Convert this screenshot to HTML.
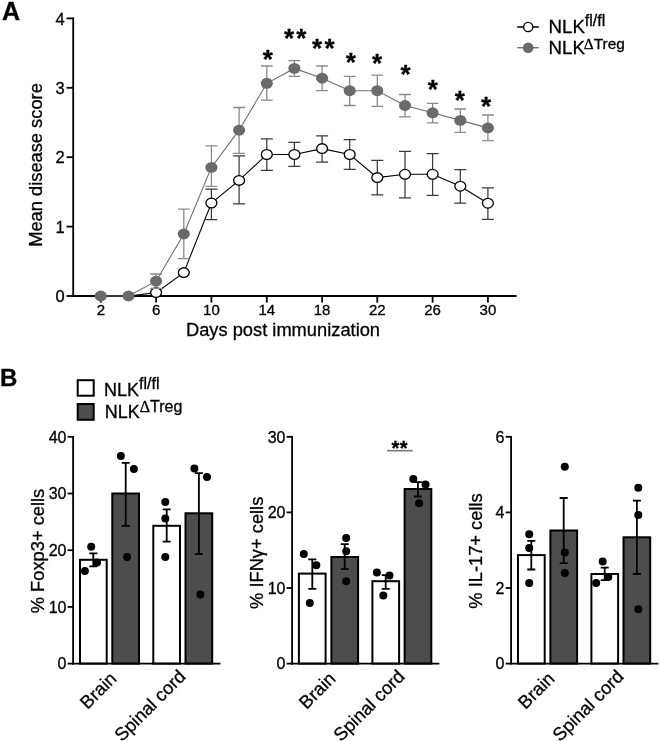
<!DOCTYPE html>
<html><head><meta charset="utf-8"><style>
html,body{margin:0;padding:0;background:#fff;}
svg{display:block;font-family:"Liberation Sans", sans-serif;filter:grayscale(1);}
text{stroke:#000;stroke-width:0.3px;}
</style></head><body>
<svg width="660" height="741" viewBox="0 0 660 741" fill="#000">
<rect width="660" height="741" fill="#fff"/>
<text x="2" y="20" font-size="25" font-weight="bold">A</text>
<line x1="73.2" y1="17.6" x2="73.2" y2="296.9" stroke="#000" stroke-width="1.8"/>
<line x1="72.3" y1="296.0" x2="516.5" y2="296.0" stroke="#000" stroke-width="1.8"/>
<line x1="66.5" y1="296.0" x2="73.2" y2="296.0" stroke="#000" stroke-width="1.8"/>
<text x="64.6" y="302.2" font-size="16.5" text-anchor="end">0</text>
<line x1="66.5" y1="226.6" x2="73.2" y2="226.6" stroke="#000" stroke-width="1.8"/>
<text x="64.6" y="232.8" font-size="16.5" text-anchor="end">1</text>
<line x1="66.5" y1="157.2" x2="73.2" y2="157.2" stroke="#000" stroke-width="1.8"/>
<text x="64.6" y="163.4" font-size="16.5" text-anchor="end">2</text>
<line x1="66.5" y1="87.8" x2="73.2" y2="87.8" stroke="#000" stroke-width="1.8"/>
<text x="64.6" y="94.0" font-size="16.5" text-anchor="end">3</text>
<line x1="66.5" y1="18.4" x2="73.2" y2="18.4" stroke="#000" stroke-width="1.8"/>
<text x="64.6" y="24.6" font-size="16.5" text-anchor="end">4</text>
<line x1="100.8" y1="296.0" x2="100.8" y2="302.6" stroke="#000" stroke-width="1.8"/>
<text x="100.8" y="315" font-size="15" text-anchor="middle">2</text>
<line x1="156.1" y1="296.0" x2="156.1" y2="302.6" stroke="#000" stroke-width="1.8"/>
<text x="156.1" y="315" font-size="15" text-anchor="middle">6</text>
<line x1="211.4" y1="296.0" x2="211.4" y2="302.6" stroke="#000" stroke-width="1.8"/>
<text x="211.4" y="315" font-size="15" text-anchor="middle">10</text>
<line x1="266.8" y1="296.0" x2="266.8" y2="302.6" stroke="#000" stroke-width="1.8"/>
<text x="266.8" y="315" font-size="15" text-anchor="middle">14</text>
<line x1="322.1" y1="296.0" x2="322.1" y2="302.6" stroke="#000" stroke-width="1.8"/>
<text x="322.1" y="315" font-size="15" text-anchor="middle">18</text>
<line x1="377.3" y1="296.0" x2="377.3" y2="302.6" stroke="#000" stroke-width="1.8"/>
<text x="377.3" y="315" font-size="15" text-anchor="middle">22</text>
<line x1="432.6" y1="296.0" x2="432.6" y2="302.6" stroke="#000" stroke-width="1.8"/>
<text x="432.6" y="315" font-size="15" text-anchor="middle">26</text>
<line x1="487.9" y1="296.0" x2="487.9" y2="302.6" stroke="#000" stroke-width="1.8"/>
<text x="487.9" y="315" font-size="15" text-anchor="middle">30</text>
<text x="283" y="335.8" font-size="18.3" text-anchor="middle">Days post immunization</text>
<text transform="translate(42,165) rotate(-90)" font-size="18.3" text-anchor="middle">Mean disease score</text>
<polyline points="128.5,296.0 156.1,292.6 183.8,272.6 211.4,203.0 239.1,180.4 266.8,154.5 294.4,154.5 322.1,148.6 349.7,154.5 377.3,177.6 405.0,174.3 432.6,174.3 460.3,186.2 487.9,203.2" fill="none" stroke="#000" stroke-width="1.1"/>
<path d="M211.4 189.0V219.5M205.4 189.0H217.4M205.4 219.5H217.4" stroke="#3a3a3a" stroke-width="1.25" fill="none"/>
<path d="M239.1 155.8V203.8M233.1 155.8H245.1M233.1 203.8H245.1" stroke="#3a3a3a" stroke-width="1.25" fill="none"/>
<path d="M266.8 138.8V170.3M260.8 138.8H272.8M260.8 170.3H272.8" stroke="#3a3a3a" stroke-width="1.25" fill="none"/>
<path d="M294.4 142.4V166.4M288.4 142.4H300.4M288.4 166.4H300.4" stroke="#3a3a3a" stroke-width="1.25" fill="none"/>
<path d="M322.1 135.8V162.0M316.1 135.8H328.1M316.1 162.0H328.1" stroke="#3a3a3a" stroke-width="1.25" fill="none"/>
<path d="M349.7 139.7V169.4M343.7 139.7H355.7M343.7 169.4H355.7" stroke="#3a3a3a" stroke-width="1.25" fill="none"/>
<path d="M377.3 160.3V194.8M371.3 160.3H383.3M371.3 194.8H383.3" stroke="#3a3a3a" stroke-width="1.25" fill="none"/>
<path d="M405.0 151.4V197.8M399.0 151.4H411.0M399.0 197.8H411.0" stroke="#3a3a3a" stroke-width="1.25" fill="none"/>
<path d="M432.6 153.6V195.4M426.6 153.6H438.6M426.6 195.4H438.6" stroke="#3a3a3a" stroke-width="1.25" fill="none"/>
<path d="M460.3 169.5V203.2M454.3 169.5H466.3M454.3 203.2H466.3" stroke="#3a3a3a" stroke-width="1.25" fill="none"/>
<path d="M487.9 187.8V219.3M481.9 187.8H493.9M481.9 219.3H493.9" stroke="#3a3a3a" stroke-width="1.25" fill="none"/>
<ellipse cx="156.1" cy="292.6" rx="5.45" ry="4.85" fill="#fff" stroke="#000" stroke-width="1.3"/>
<ellipse cx="183.8" cy="272.6" rx="5.45" ry="4.85" fill="#fff" stroke="#000" stroke-width="1.3"/>
<ellipse cx="211.4" cy="203.0" rx="5.45" ry="4.85" fill="#fff" stroke="#000" stroke-width="1.3"/>
<ellipse cx="239.1" cy="180.4" rx="5.45" ry="4.85" fill="#fff" stroke="#000" stroke-width="1.3"/>
<ellipse cx="266.8" cy="154.5" rx="5.45" ry="4.85" fill="#fff" stroke="#000" stroke-width="1.3"/>
<ellipse cx="294.4" cy="154.5" rx="5.45" ry="4.85" fill="#fff" stroke="#000" stroke-width="1.3"/>
<ellipse cx="322.1" cy="148.6" rx="5.45" ry="4.85" fill="#fff" stroke="#000" stroke-width="1.3"/>
<ellipse cx="349.7" cy="154.5" rx="5.45" ry="4.85" fill="#fff" stroke="#000" stroke-width="1.3"/>
<ellipse cx="377.3" cy="177.6" rx="5.45" ry="4.85" fill="#fff" stroke="#000" stroke-width="1.3"/>
<ellipse cx="405.0" cy="174.3" rx="5.45" ry="4.85" fill="#fff" stroke="#000" stroke-width="1.3"/>
<ellipse cx="432.6" cy="174.3" rx="5.45" ry="4.85" fill="#fff" stroke="#000" stroke-width="1.3"/>
<ellipse cx="460.3" cy="186.2" rx="5.45" ry="4.85" fill="#fff" stroke="#000" stroke-width="1.3"/>
<ellipse cx="487.9" cy="203.2" rx="5.45" ry="4.85" fill="#fff" stroke="#000" stroke-width="1.3"/>
<polyline points="100.8,296.0 128.5,296.0 156.1,281.2 183.8,234.0 211.4,167.4 239.1,130.2 266.8,83.3 294.4,68.4 322.1,78.2 349.7,90.7 377.3,90.7 405.0,105.5 432.6,112.8 460.3,120.4 487.9,127.9" fill="none" stroke="#6e6e6e" stroke-width="1.1"/>
<path d="M156.1 274.0V288.4M150.2 274.0H162.0M150.2 288.4H162.0" stroke="#8a8a8a" stroke-width="1.3" fill="none"/>
<path d="M183.8 209.2V258.6M177.9 209.2H189.7M177.9 258.6H189.7" stroke="#8a8a8a" stroke-width="1.3" fill="none"/>
<path d="M211.4 145.8V186.3M205.5 145.8H217.3M205.5 186.3H217.3" stroke="#8a8a8a" stroke-width="1.3" fill="none"/>
<path d="M239.1 107.5V153.4M233.2 107.5H245.0M233.2 153.4H245.0" stroke="#8a8a8a" stroke-width="1.3" fill="none"/>
<path d="M266.8 66.0V100.2M260.9 66.0H272.6M260.9 100.2H272.6" stroke="#8a8a8a" stroke-width="1.3" fill="none"/>
<path d="M294.4 60.7V76.4M288.5 60.7H300.3M288.5 76.4H300.3" stroke="#8a8a8a" stroke-width="1.3" fill="none"/>
<path d="M322.1 66.0V90.7M316.2 66.0H327.9M316.2 90.7H327.9" stroke="#8a8a8a" stroke-width="1.3" fill="none"/>
<path d="M349.7 76.4V105.5M343.8 76.4H355.6M343.8 105.5H355.6" stroke="#8a8a8a" stroke-width="1.3" fill="none"/>
<path d="M377.3 75.1V106.4M371.4 75.1H383.2M371.4 106.4H383.2" stroke="#8a8a8a" stroke-width="1.3" fill="none"/>
<path d="M405.0 94.5V116.9M399.1 94.5H410.9M399.1 116.9H410.9" stroke="#8a8a8a" stroke-width="1.3" fill="none"/>
<path d="M432.6 103.4V122.8M426.8 103.4H438.5M426.8 122.8H438.5" stroke="#8a8a8a" stroke-width="1.3" fill="none"/>
<path d="M460.3 109.0V132.3M454.4 109.0H466.2M454.4 132.3H466.2" stroke="#8a8a8a" stroke-width="1.3" fill="none"/>
<path d="M487.9 115.0V140.6M482.1 115.0H493.8M482.1 140.6H493.8" stroke="#8a8a8a" stroke-width="1.3" fill="none"/>
<ellipse cx="100.8" cy="296.0" rx="6.05" ry="5.45" fill="#6a6a6a"/>
<ellipse cx="128.5" cy="296.0" rx="6.05" ry="5.45" fill="#6a6a6a"/>
<ellipse cx="156.1" cy="281.2" rx="6.05" ry="5.45" fill="#6a6a6a"/>
<ellipse cx="183.8" cy="234.0" rx="6.05" ry="5.45" fill="#6a6a6a"/>
<ellipse cx="211.4" cy="167.4" rx="6.05" ry="5.45" fill="#6a6a6a"/>
<ellipse cx="239.1" cy="130.2" rx="6.05" ry="5.45" fill="#6a6a6a"/>
<ellipse cx="266.8" cy="83.3" rx="6.05" ry="5.45" fill="#6a6a6a"/>
<ellipse cx="294.4" cy="68.4" rx="6.05" ry="5.45" fill="#6a6a6a"/>
<ellipse cx="322.1" cy="78.2" rx="6.05" ry="5.45" fill="#6a6a6a"/>
<ellipse cx="349.7" cy="90.7" rx="6.05" ry="5.45" fill="#6a6a6a"/>
<ellipse cx="377.3" cy="90.7" rx="6.05" ry="5.45" fill="#6a6a6a"/>
<ellipse cx="405.0" cy="105.5" rx="6.05" ry="5.45" fill="#6a6a6a"/>
<ellipse cx="432.6" cy="112.8" rx="6.05" ry="5.45" fill="#6a6a6a"/>
<ellipse cx="460.3" cy="120.4" rx="6.05" ry="5.45" fill="#6a6a6a"/>
<ellipse cx="487.9" cy="127.9" rx="6.05" ry="5.45" fill="#6a6a6a"/>
<text x="268.8" y="68.2" font-size="26" font-weight="bold" text-anchor="middle" letter-spacing="2.2">*</text>
<text x="296.2" y="47.2" font-size="26" font-weight="bold" text-anchor="middle" letter-spacing="2.2">**</text>
<text x="324.4" y="57.2" font-size="26" font-weight="bold" text-anchor="middle" letter-spacing="2.2">**</text>
<text x="351.9" y="70.5" font-size="26" font-weight="bold" text-anchor="middle" letter-spacing="2.2">*</text>
<text x="378.1" y="71.7" font-size="26" font-weight="bold" text-anchor="middle" letter-spacing="2.2">*</text>
<text x="406.7" y="82.6" font-size="26" font-weight="bold" text-anchor="middle" letter-spacing="2.2">*</text>
<text x="433.8" y="98.4" font-size="26" font-weight="bold" text-anchor="middle" letter-spacing="2.2">*</text>
<text x="461.0" y="108.6" font-size="26" font-weight="bold" text-anchor="middle" letter-spacing="2.2">*</text>
<text x="487.2" y="114.6" font-size="26" font-weight="bold" text-anchor="middle" letter-spacing="2.2">*</text>
<line x1="517.2" y1="27.0" x2="538.8" y2="27.0" stroke="#000" stroke-width="1.5"/>
<circle cx="528.2" cy="27.0" r="4.6" fill="#fff" stroke="#000" stroke-width="1.4"/>
<line x1="517.2" y1="47.7" x2="538.8" y2="47.7" stroke="#6e6e6e" stroke-width="1.4"/>
<circle cx="528.2" cy="47.7" r="5.3" fill="#6a6a6a"/>
<text x="548.5" y="32.6" font-size="18.7">NLK<tspan font-size="16" dy="-7">fl/fl</tspan></text>
<text x="548.5" y="54.4" font-size="18.7">NLK<tspan font-size="15.4" dy="-5.7" dx="-1"><tspan font-family="Liberation Serif">&#916;</tspan>Treg</tspan></text>
<text x="0" y="386" font-size="24" font-weight="bold">B</text>
<rect x="77.7" y="380.2" width="16" height="15.5" fill="#fff" stroke="#000" stroke-width="2"/>
<rect x="77.7" y="404" width="16" height="15.8" fill="#4d4d4d" stroke="#000" stroke-width="2"/>
<text x="104" y="395.5" font-size="18">NLK<tspan font-size="16" dy="-7">fl/fl</tspan></text>
<text x="104.8" y="418.3" font-size="18">NLK<tspan font-size="16" dy="-6.5"><tspan font-family="Liberation Serif">&#916;</tspan>Treg</tspan></text>
<rect x="80.0" y="559.8" width="26.7" height="103.8" fill="#fff" stroke="#000" stroke-width="2"/>
<rect x="112.3" y="493.5" width="26.7" height="170.1" fill="#4d4d4d" stroke="#000" stroke-width="2"/>
<rect x="153.3" y="525.8" width="26.7" height="137.8" fill="#fff" stroke="#000" stroke-width="2"/>
<rect x="185.5" y="513.3" width="26.7" height="150.3" fill="#4d4d4d" stroke="#000" stroke-width="2"/>
<path d="M93.3 553.3V566.4M89.3 553.3H97.3M89.3 566.4H97.3" stroke="#000" stroke-width="1.8" fill="none"/>
<circle cx="91.2" cy="546.8" r="4.0" fill="#000"/>
<circle cx="97.0" cy="562.4" r="4.0" fill="#000"/>
<circle cx="84.9" cy="570.9" r="4.0" fill="#000"/>
<path d="M125.7 462.9V525.8M121.7 462.9H129.7M121.7 525.8H129.7" stroke="#000" stroke-width="1.8" fill="none"/>
<circle cx="120.9" cy="456.1" r="4.0" fill="#000"/>
<circle cx="133.9" cy="469.1" r="4.0" fill="#000"/>
<circle cx="127.1" cy="557.0" r="4.0" fill="#000"/>
<path d="M166.7 509.4V541.7M162.7 509.4H170.7M162.7 541.7H170.7" stroke="#000" stroke-width="1.8" fill="none"/>
<circle cx="165.3" cy="502.0" r="4.0" fill="#000"/>
<circle cx="165.3" cy="518.4" r="4.0" fill="#000"/>
<circle cx="165.3" cy="557.0" r="4.0" fill="#000"/>
<path d="M198.9 473.1V554.2M194.9 473.1H202.9M194.9 554.2H202.9" stroke="#000" stroke-width="1.8" fill="none"/>
<circle cx="194.4" cy="468.6" r="4.0" fill="#000"/>
<circle cx="207.0" cy="477.1" r="4.0" fill="#000"/>
<circle cx="200.4" cy="594.4" r="4.0" fill="#000"/>
<line x1="73.1" y1="435.90000000000003" x2="73.1" y2="664.5" stroke="#000" stroke-width="1.8"/>
<line x1="72.19999999999999" y1="663.6" x2="220.4" y2="663.6" stroke="#000" stroke-width="1.8"/>
<line x1="67.6" y1="663.6" x2="73.1" y2="663.6" stroke="#000" stroke-width="1.8"/>
<text x="66.5" y="669.4" font-size="16" text-anchor="end">0</text>
<line x1="67.6" y1="606.9" x2="73.1" y2="606.9" stroke="#000" stroke-width="1.8"/>
<text x="66.5" y="612.7" font-size="16" text-anchor="end">10</text>
<line x1="67.6" y1="550.2" x2="73.1" y2="550.2" stroke="#000" stroke-width="1.8"/>
<text x="66.5" y="556.0" font-size="16" text-anchor="end">20</text>
<line x1="67.6" y1="493.5" x2="73.1" y2="493.5" stroke="#000" stroke-width="1.8"/>
<text x="66.5" y="499.3" font-size="16" text-anchor="end">30</text>
<line x1="67.6" y1="436.8" x2="73.1" y2="436.8" stroke="#000" stroke-width="1.8"/>
<text x="66.5" y="442.6" font-size="16" text-anchor="end">40</text>
<text transform="translate(44.099999999999994,551) rotate(-90)" font-size="18.3" text-anchor="middle">% Foxp3+ cells</text>
<text transform="translate(117.69999999999999,679.7) rotate(-45)" font-size="18.3" text-anchor="end">Brain</text>
<text transform="translate(186.7,677.6) rotate(-45)" font-size="18.3" text-anchor="end">Spinal cord</text>
<rect x="298.9" y="573.6" width="26.7" height="90.0" fill="#fff" stroke="#000" stroke-width="2"/>
<rect x="331.4" y="557.0" width="26.7" height="106.6" fill="#4d4d4d" stroke="#000" stroke-width="2"/>
<rect x="372.4" y="581.2" width="26.7" height="82.4" fill="#fff" stroke="#000" stroke-width="2"/>
<rect x="404.6" y="489.0" width="26.7" height="174.6" fill="#4d4d4d" stroke="#000" stroke-width="2"/>
<path d="M312.3 559.3V588.8M308.3 559.3H316.3M308.3 588.8H316.3" stroke="#000" stroke-width="1.8" fill="none"/>
<circle cx="303.8" cy="554.0" r="4.0" fill="#000"/>
<circle cx="316.3" cy="565.3" r="4.0" fill="#000"/>
<circle cx="309.8" cy="603.1" r="4.0" fill="#000"/>
<path d="M344.7 544.2V569.1M340.7 544.2H348.7M340.7 569.1H348.7" stroke="#000" stroke-width="1.8" fill="none"/>
<circle cx="346.2" cy="538.1" r="4.0" fill="#000"/>
<circle cx="346.2" cy="551.3" r="4.0" fill="#000"/>
<circle cx="346.2" cy="581.2" r="4.0" fill="#000"/>
<path d="M385.7 575.1V588.8M381.7 575.1H389.7M381.7 588.8H389.7" stroke="#000" stroke-width="1.8" fill="none"/>
<circle cx="376.9" cy="572.5" r="4.0" fill="#000"/>
<circle cx="389.5" cy="575.5" r="4.0" fill="#000"/>
<circle cx="383.3" cy="595.6" r="4.0" fill="#000"/>
<path d="M417.9 482.2V496.5M413.9 482.2H421.9M413.9 496.5H421.9" stroke="#000" stroke-width="1.8" fill="none"/>
<circle cx="413.3" cy="479.1" r="4.0" fill="#000"/>
<circle cx="425.5" cy="484.4" r="4.0" fill="#000"/>
<circle cx="419.1" cy="503.3" r="4.0" fill="#000"/>
<line x1="292.1" y1="435.90000000000003" x2="292.1" y2="664.5" stroke="#000" stroke-width="1.8"/>
<line x1="291.20000000000005" y1="663.6" x2="439.40000000000003" y2="663.6" stroke="#000" stroke-width="1.8"/>
<line x1="286.6" y1="663.6" x2="292.1" y2="663.6" stroke="#000" stroke-width="1.8"/>
<text x="285.5" y="669.4" font-size="16" text-anchor="end">0</text>
<line x1="286.6" y1="588.0" x2="292.1" y2="588.0" stroke="#000" stroke-width="1.8"/>
<text x="285.5" y="593.8" font-size="16" text-anchor="end">10</text>
<line x1="286.6" y1="512.4" x2="292.1" y2="512.4" stroke="#000" stroke-width="1.8"/>
<text x="285.5" y="518.2" font-size="16" text-anchor="end">20</text>
<line x1="286.6" y1="436.8" x2="292.1" y2="436.8" stroke="#000" stroke-width="1.8"/>
<text x="285.5" y="442.6" font-size="16" text-anchor="end">30</text>
<text transform="translate(263.1,552.8) rotate(-90)" font-size="18.3" text-anchor="middle">% IFN&#947;+ cells</text>
<text transform="translate(336.70000000000005,679.7) rotate(-45)" font-size="18.3" text-anchor="end">Brain</text>
<text transform="translate(405.70000000000005,677.6) rotate(-45)" font-size="18.3" text-anchor="end">Spinal cord</text>
<line x1="387.1" y1="450.7" x2="412.8" y2="450.7" stroke="#777" stroke-width="1.6"/>
<text x="399.7" y="455" font-size="20" font-weight="bold" text-anchor="middle" letter-spacing="0.5">**</text>
<rect x="518.0" y="555.1" width="26.7" height="108.5" fill="#fff" stroke="#000" stroke-width="2"/>
<rect x="550.4" y="530.5" width="26.7" height="133.1" fill="#4d4d4d" stroke="#000" stroke-width="2"/>
<rect x="591.4" y="574.0" width="26.7" height="89.6" fill="#fff" stroke="#000" stroke-width="2"/>
<rect x="623.5" y="537.3" width="26.7" height="126.3" fill="#4d4d4d" stroke="#000" stroke-width="2"/>
<path d="M531.3 540.8V569.5M527.3 540.8H535.3M527.3 569.5H535.3" stroke="#000" stroke-width="1.8" fill="none"/>
<circle cx="529.2" cy="534.3" r="4.0" fill="#000"/>
<circle cx="529.2" cy="547.9" r="4.0" fill="#000"/>
<circle cx="529.2" cy="583.1" r="4.0" fill="#000"/>
<path d="M563.7 498.0V563.1M559.7 498.0H567.7M559.7 563.1H567.7" stroke="#000" stroke-width="1.8" fill="none"/>
<circle cx="564.8" cy="466.7" r="4.0" fill="#000"/>
<circle cx="564.8" cy="552.5" r="4.0" fill="#000"/>
<circle cx="564.8" cy="572.9" r="4.0" fill="#000"/>
<path d="M604.7 567.6V580.1M600.7 567.6H608.7M600.7 580.1H608.7" stroke="#000" stroke-width="1.8" fill="none"/>
<circle cx="602.7" cy="561.5" r="4.0" fill="#000"/>
<circle cx="608.3" cy="577.0" r="4.0" fill="#000"/>
<circle cx="596.2" cy="583.1" r="4.0" fill="#000"/>
<path d="M636.9 500.7V574.0M632.9 500.7H640.9M632.9 574.0H640.9" stroke="#000" stroke-width="1.8" fill="none"/>
<circle cx="638.3" cy="487.8" r="4.0" fill="#000"/>
<circle cx="638.3" cy="515.0" r="4.0" fill="#000"/>
<circle cx="638.3" cy="609.2" r="4.0" fill="#000"/>
<line x1="511.1" y1="435.90000000000003" x2="511.1" y2="664.5" stroke="#000" stroke-width="1.8"/>
<line x1="510.20000000000005" y1="663.6" x2="658.4000000000001" y2="663.6" stroke="#000" stroke-width="1.8"/>
<line x1="505.6" y1="663.6" x2="511.1" y2="663.6" stroke="#000" stroke-width="1.8"/>
<text x="504.5" y="669.4" font-size="16" text-anchor="end">0</text>
<line x1="505.6" y1="588.0" x2="511.1" y2="588.0" stroke="#000" stroke-width="1.8"/>
<text x="504.5" y="593.8" font-size="16" text-anchor="end">2</text>
<line x1="505.6" y1="512.4" x2="511.1" y2="512.4" stroke="#000" stroke-width="1.8"/>
<text x="504.5" y="518.2" font-size="16" text-anchor="end">4</text>
<line x1="505.6" y1="436.8" x2="511.1" y2="436.8" stroke="#000" stroke-width="1.8"/>
<text x="504.5" y="442.6" font-size="16" text-anchor="end">6</text>
<text transform="translate(482.1,551) rotate(-90)" font-size="18.3" text-anchor="middle">% IL-17+ cells</text>
<text transform="translate(555.7,679.7) rotate(-45)" font-size="18.3" text-anchor="end">Brain</text>
<text transform="translate(624.7,677.6) rotate(-45)" font-size="18.3" text-anchor="end">Spinal cord</text>
</svg>
</body></html>
